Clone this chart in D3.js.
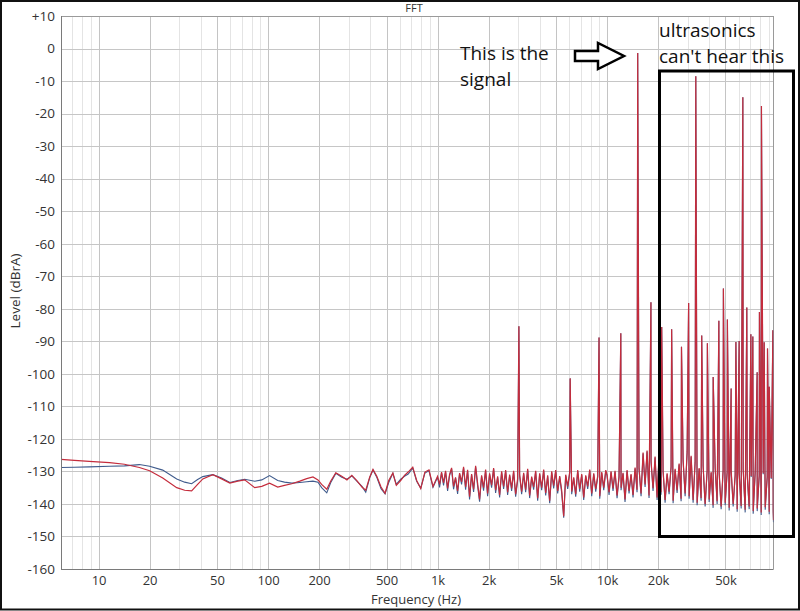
<!DOCTYPE html>
<html><head><meta charset="utf-8">
<script src="https://cdn.jsdelivr.net/npm/d3@7"></script>
<style>body{margin:0;background:#fff}</style>
</head><body><svg id="c" width="800" height="611"></svg>
<script>
// ---------- data ----------
const noiseFreqs = [6,7.2,8.8,11.6,14.2,17.4,20,23.9,28.9,32.2,
35.4,38.4,41.2,47.2,53.2,59.5,66.3,72.8,83.4,91.8,
102,114,125,138,154,169,184,197,207,222,
234,251,272,292,312,334,358,377,398,416,
438,464,490,515,545,571,606,638,671,714,
753,796,842,890,940,
1000,1028,1056,1085,1115,1146,1177,1210,1243,1277,
1313,1349,1386,1424,1464,1504,1545,1588,1632,1677,
1723,1770,1819,1869,1921,1974,2028,2084,2142,2201,
2262,2324,2388,2454,2522,2591,2663,2736,2811,2889,
2969,3050,3135,3221,3310,3401,3495,3591,3690,3792,
3897,4004,4115,4228,4345,4464,4588,4714,4844,4978,
5115,5256,5401,5550,5703,5860,6022,6188,6359,6534,
6714,6899,7090,7285,7486,7692,7905,8123,8347,8577,
8813,9056,9306,9563,9827,
10000,10280,10560,10850,11150,11460,11770,12100,12430,12770,
13130,13490,13860,14240,14640,15040,15450,15880,16320,16770,
17230,17700,18190,18690,19210,19740,20280,20840,21420,22010,
22620,23240,23880,24540,25220,25910,26630,27360,28110,28890,
29690,30500,31350,32210,33100,34010,34950,35910,36900,37920,
38970,40040,41150,42280,43450,44640,45880,47140,48440,49780,
51150,52560,54010,55500,57030,58600,60220,61880,63590,65340,
67140,68990,70900,72850,74860,76920,79050,81230,83470,85770,
88130,90560,93060,95630,96000];

const redNoise = [-126.3,-126.6,-126.9,-127.3,-127.8,-128.8,-129.8,-132.0,-135.0,-135.8,
-136.0,-134.0,-132.3,-131.0,-132.3,-133.6,-133.0,-132.6,-135.0,-134.6,
-133.6,-134.8,-134.3,-133.8,-133.0,-132.2,-131.7,-132.6,-134.0,-135.5,
-133.0,-130.4,-131.5,-132.6,-131.2,-132.8,-134.8,-135.8,-131.7,-129.4,
-131.5,-134.8,-136.7,-132.8,-130.5,-134.3,-132.8,-131.2,-130.2,-128.7,
-132.8,-135.3,-130.2,-129.5,-134.6,
-131.5,-134.0,-130.2,-133.5,-129.8,-135.2,-131.0,-128.9,-134.6,-131.8,
-136.0,-130.5,-133.2,-128.6,-134.8,-129.5,-137.8,-130.8,-135.5,-128.3,
-133.6,-138.6,-131.2,-135.0,-129.4,-136.8,-130.6,-134.2,-129.0,-135.8,
-131.5,-137.2,-130.0,-134.6,-129.6,-136.4,-131.0,-135.2,-129.8,-137.0,
-132.2,-131.0,-136.2,-130.4,-135.6,-129.2,-137.4,-131.6,-134.8,-129.8,
-138.2,-130.6,-135.0,-129.4,-136.6,-131.2,-139.0,-130.0,-134.4,-129.6,
-136.0,-131.4,-135.8,-143.8,-131.0,-134.6,-130.2,-136.2,-131.8,-137.0,
-129.6,-135.4,-130.8,-138.0,-131.2,-134.6,-129.4,-136.8,-130.6,-135.4,
-131.4,-137.6,-130.2,-135.0,-129.6,
-131.0,-136.4,-130.0,-135.2,-129.8,-137.4,-131.6,-135.0,-130.4,-138.6,
-129.6,-136.0,-130.8,-137.2,-128.8,-135.6,-129.0,-136.8,-124.2,-134.0,
-123.6,-137.4,-126.8,-135.2,-125.4,-138.0,-124.8,-136.4,-129.8,-138.8,
-130.6,-136.2,-128.4,-139.0,-129.2,-135.8,-127.6,-138.4,-126.4,-136.8,
-124.0,-137.6,-125.2,-138.8,-127.0,-139.6,-129.0,-138.2,-128.2,-140.0,
-129.6,-138.6,-130.2,-140.4,-128.8,-139.2,-130.4,-140.8,-129.4,-139.6,
-130.0,-141.2,-129.8,-140.0,-131.0,-141.6,-130.4,-140.6,-129.2,-141.8,
-130.8,-140.8,-131.4,-142.2,-130.0,-141.4,-131.2,-142.6,-130.6,-141.0,
-131.6,-142.4,-132.0,-141.8,-145.0];

const blueNoise = [-128.8,-128.7,-128.6,-128.4,-128.3,-127.9,-128.4,-129.6,-132.3,-133.3,
-133.8,-132.5,-131.6,-131.0,-132.0,-133.4,-132.8,-132.4,-133.0,-132.6,
-131.3,-132.8,-133.3,-133.6,-133.4,-133.2,-133.0,-133.3,-135.0,-136.6,
-133.5,-130.6,-131.8,-132.4,-131.4,-133.0,-134.6,-136.4,-131.9,-129.6,
-131.8,-135.3,-136.9,-133.4,-130.6,-134.0,-132.4,-131.5,-130.8,-129.0,
-133.0,-135.1,-130.5,-129.8,-134.9,
-131.8,-134.9,-130.4,-134.3,-130.1,-136.0,-131.3,-129.2,-135.5,-132.0,
-136.9,-130.7,-134.0,-128.9,-135.6,-129.8,-138.6,-131.0,-136.3,-128.6,
-134.4,-139.3,-131.5,-135.9,-129.7,-137.6,-130.9,-135.0,-129.3,-136.6,
-131.8,-138.0,-130.3,-135.4,-129.9,-137.2,-131.3,-136.0,-130.1,-137.8,
-132.8,-131.3,-137.0,-130.7,-136.4,-129.5,-138.2,-131.9,-135.6,-130.1,
-139.0,-130.9,-135.8,-129.7,-137.4,-131.5,-139.8,-130.3,-135.2,-129.9,
-136.8,-131.7,-136.6,-144.2,-131.3,-135.4,-130.5,-137.0,-132.1,-137.8,
-129.9,-136.2,-131.1,-138.8,-131.5,-135.4,-129.7,-137.6,-130.9,-136.2,
-131.7,-138.4,-130.5,-135.8,-129.9,
-131.3,-137.2,-130.3,-136.0,-130.1,-138.2,-131.9,-135.8,-130.7,-139.4,
-129.9,-136.8,-131.1,-138.0,-129.1,-136.4,-129.3,-137.6,-124.5,-134.8,
-123.9,-138.2,-127.1,-136.0,-125.7,-138.8,-125.1,-137.2,-130.1,-139.6,
-130.9,-137.0,-128.7,-139.8,-129.5,-136.6,-127.9,-139.2,-126.7,-137.6,
-124.3,-138.4,-125.5,-139.6,-127.3,-140.4,-129.3,-139.0,-128.5,-140.8,
-129.9,-139.4,-130.5,-141.2,-129.1,-140.0,-130.7,-141.6,-129.7,-140.4,
-130.3,-142.0,-130.1,-140.8,-131.3,-142.4,-130.7,-141.4,-129.5,-142.6,
-131.1,-141.6,-131.7,-143.0,-130.3,-142.2,-131.5,-143.4,-130.9,-141.8,
-131.9,-143.2,-132.3,-142.6,-145.6];

const peakFreqs = [3020,6060,8970,12060,15170,18160,21020,24060,27500,30300,
33400,36200,39100,42300,45700,48600,51300,54000,57600,60200,
63300,66800,70600,72500,76900,79300,81500,84600,88500,90600,95200];
const peakLevels = [-85.4,-101.4,-88.8,-87.5,-1.4,-78.0,-85.6,-86.3,-91.7,-78.2,
-8.5,-88.2,-90.6,-101.0,-83.7,-73.8,-83.3,-104.5,-90.2,-89.9,
-15.0,-79.6,-87.8,-88.5,-99.5,-81.0,-17.7,-90.3,-92.2,-104.0,-86.6];

const xTickValues = [10,20,50,100,200,500,1000,2000,5000,10000,20000,50000];
const xTickLabels = ["10","20","50","100","200","500","1k","2k","5k","10k","20k","50k"];
const yTickValues = [-160,-150,-140,-130,-120,-110,-100,-90,-80,-70,-60,-50,-40,-30,-20,-10,0,10];
const yTickLabels = ["-160","-150","-140","-130","-120","-110","-100","-90","-80","-70","-60","-50","-40","-30","-20","-10","0","+10"];

// ---------- chart ----------
const svg = d3.select("#c");
const L = 61, R = 773.5, T = 16, B = 569;
const x = d3.scaleLog().domain([6, 96000]).range([L, R]);
const y = d3.scaleLinear().domain([-160, 10]).range([B, T]);
const FONT = "'Open Sans','Noto Sans',sans-serif";

svg.append("rect").attr("width",800).attr("height",611).attr("fill","#fff");

// grid
const grid = svg.append("g");
[1,10,100,1000,10000].forEach(d => {
  for (let m = 1; m <= 9; m++) {
    const f = m * d;
    if (f < 6 || f > 96000) continue;
    const major = (m === 1 || m === 2 || m === 5);
    grid.append("line")
      .attr("x1", Math.round(x(f)) + 0.5).attr("x2", Math.round(x(f)) + 0.5)
      .attr("y1", T).attr("y2", B)
      .attr("stroke", major ? "#c4c4c4" : "#e4e4e4").attr("stroke-width", 1);
  }
});
yTickValues.forEach(v => {
  grid.append("line")
    .attr("x1", L).attr("x2", R)
    .attr("y1", Math.round(y(v)) + 0.5).attr("y2", Math.round(y(v)) + 0.5)
    .attr("stroke", "#c6c6c6").attr("stroke-width", 1);
});

// plot border
svg.append("line").attr("x1",L).attr("x2",R).attr("y1",T+0.5).attr("y2",T+0.5).attr("stroke","#9a9a9a");
svg.append("line").attr("x1",R).attr("x2",R).attr("y1",T).attr("y2",B).attr("stroke","#9a9a9a");

// series
function buildSeries(levels) {
  const pts = noiseFreqs.map((f, i) => ({f: f, v: levels[i]}));
  peakFreqs.forEach((f, i) => pts.push({f: f, v: peakLevels[i]}));
  pts.sort((a, b) => a.f - b.f);
  return pts;
}
svg.append("clipPath").attr("id","clip").append("rect")
  .attr("x", L).attr("y", T).attr("width", R - L).attr("height", B - T);
const line = d3.line().x(d => x(d.f)).y(d => y(d.v));
const plot = svg.append("g").attr("clip-path","url(#clip)");
plot.append("path").datum(buildSeries(blueNoise))
  .attr("d", line).attr("fill","none").attr("stroke","#3f5b8c").attr("stroke-width",1.1);
plot.append("path").datum(buildSeries(redNoise))
  .attr("d", line).attr("fill","none").attr("stroke","#c42c3c").attr("stroke-width",1.2);

// axes
const yAxis = svg.append("g").attr("transform", `translate(${L},0)`)
  .call(d3.axisLeft(y).tickValues(yTickValues).tickFormat((d, i) => yTickLabels[i]).tickSize(0).tickPadding(6));
yAxis.select(".domain").remove();
yAxis.selectAll("text").attr("font-family", FONT).attr("font-size", 13.5).attr("fill", "#333");

const xAxis = svg.append("g").attr("transform", `translate(0,${B})`)
  .call(d3.axisBottom(x).tickValues(xTickValues).tickFormat((d, i) => xTickLabels[i]).tickSize(0).tickPadding(7));
xAxis.select(".domain").remove();
xAxis.selectAll("text").attr("font-family", FONT).attr("font-size", 13).attr("fill", "#333");

svg.append("line").attr("x1",L+0.5).attr("x2",L+0.5).attr("y1",T).attr("y2",B).attr("stroke","#7a7a7a");
svg.append("line").attr("x1",L).attr("x2",R).attr("y1",B+0.5).attr("y2",B+0.5).attr("stroke","#7a7a7a");

// titles
svg.append("text").attr("x", 414).attr("y", 12).attr("text-anchor","middle")
  .attr("font-family", FONT).attr("font-size", 11).attr("fill","#333").text("FFT");
svg.append("text").attr("x", 416).attr("y", 604).attr("text-anchor","middle")
  .attr("font-family", FONT).attr("font-size", 13).attr("fill","#333").text("Frequency (Hz)");
svg.append("text").attr("transform","translate(20,291) rotate(-90)").attr("text-anchor","middle")
  .attr("font-family", FONT).attr("font-size", 13.5).attr("fill","#333").text("Level (dBrA)");

// annotations
const ann = svg.append("g").attr("font-family", FONT).attr("font-size", 19).attr("fill", "#111");
ann.append("text").attr("x", 460).attr("y", 60).text("This is the");
ann.append("text").attr("x", 460).attr("y", 86).text("signal");
ann.append("text").attr("x", 659).attr("y", 37).text("ultrasonics");
ann.append("text").attr("x", 659).attr("y", 63).text("can't hear this");
svg.append("polygon")
  .attr("points", "575,51 598,51 598,43 624,56 598,69 598,61 575,61")
  .attr("fill","#fff").attr("stroke","#000").attr("stroke-width",2.5).attr("stroke-linejoin","miter");
svg.append("rect").attr("x", 659.5).attr("y", 71).attr("width", 134).attr("height", 465.5)
  .attr("fill","none").attr("stroke","#000").attr("stroke-width",3);

// outer frame
svg.append("rect").attr("x",1).attr("y",1).attr("width",798).attr("height",608.5)
  .attr("fill","none").attr("stroke","#111").attr("stroke-width",2);
</script>
</body></html>
